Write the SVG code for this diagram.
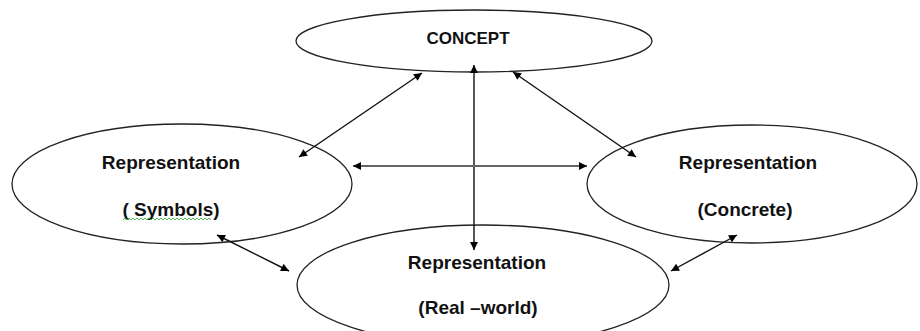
<svg xmlns="http://www.w3.org/2000/svg" width="920" height="331" viewBox="0 0 920 331">
  <defs>
    <marker id="ah" viewBox="0 0 10 10" refX="10" refY="5" markerWidth="10" markerHeight="8" markerUnits="userSpaceOnUse" orient="auto-start-reverse">
      <path d="M0,0 L10,5 L0,10 Z" fill="#000"/>
    </marker>
    <style>
      .node ellipse { fill: #fff; stroke: #222; stroke-width: 1.3; }
      .lbl { font-family: "Liberation Sans", Arial, sans-serif; font-weight: bold; font-size: 19px; fill: #111; text-anchor: middle; }
      .cap { font-size: 17px; }
      .conn line { stroke: #111; stroke-width: 1.4; marker-start: url(#ah); marker-end: url(#ah); }
      .conn line.h { stroke: #666; stroke-width: 2.2; }
    </style>
  </defs>
  <rect width="920" height="331" fill="#fff"/>

  <g id="concept" class="node">
    <ellipse cx="474" cy="41" rx="178" ry="31"/>
    <text class="lbl cap" x="468" y="44">CONCEPT</text>
  </g>

  <g id="symbols" class="node">
    <ellipse cx="182" cy="184" rx="170" ry="60"/>
    <text class="lbl" x="171" y="169">Representation</text>
    <text class="lbl" x="171" y="216">( Symbols)</text>
    <path d="M123,220 l2,-2 l2,2 l2,-2 l2,2 l2,-2 l2,2 l2,-2 l2,2 l2,-2 l2,2 l2,-2 l2,2 l2,-2 l2,2 l2,-2 l2,2 l2,-2 l2,2 l2,-2 l2,2 l2,-2 l2,2 l2,-2 l2,2 l2,-2 l2,2 l2,-2 l2,2 l2,-2 l2,2 l2,-2 l2,2 l2,-2 l2,2 l2,-2 l2,2 l2,-2 l2,2 l2,-2 l2,2 l2,-2 l2,2 l2,-2 l2,2" fill="none" stroke="#3cb043" stroke-width="0.9"/>
  </g>

  <g id="concrete" class="node">
    <ellipse cx="752" cy="184" rx="165" ry="59"/>
    <text class="lbl" x="748" y="169">Representation</text>
    <text class="lbl" x="745" y="216">(Concrete)</text>
  </g>

  <g id="realworld" class="node">
    <ellipse cx="483" cy="285" rx="186" ry="60"/>
    <text class="lbl" x="477" y="269">Representation</text>
    <text class="lbl" x="478" y="314">(Real –world)</text>
  </g>

  <g id="connectors" class="conn">
    <line x1="422" y1="73" x2="299" y2="157"/>
    <line x1="474" y1="65" x2="474" y2="250"/>
    <line class="h" x1="353" y1="166" x2="587" y2="166"/>
    <line x1="513" y1="72" x2="636" y2="157"/>
    <line x1="217" y1="235" x2="289" y2="271"/>
    <line x1="737" y1="235" x2="671" y2="271"/>
  </g>
</svg>
